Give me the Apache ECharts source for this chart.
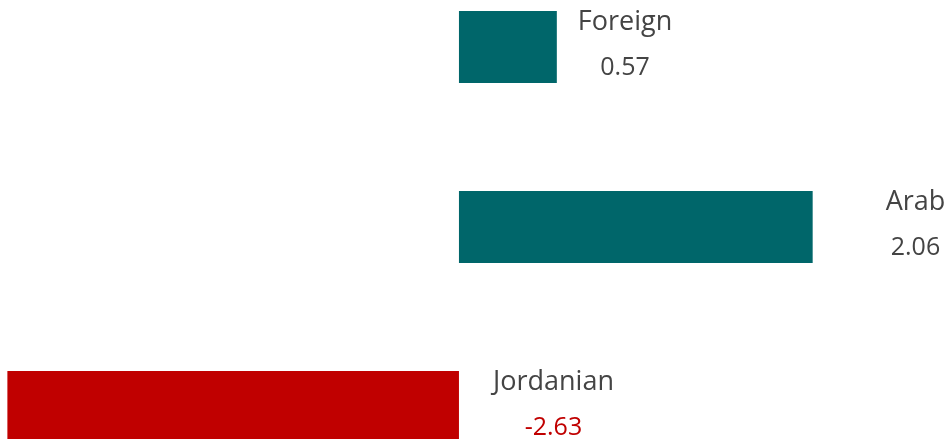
<!DOCTYPE html>
<html>
<head>
<meta charset="utf-8">
<script src="https://cdn.jsdelivr.net/npm/echarts@6/dist/echarts.min.js"></script>
<style>
html,body{margin:0;padding:0;background:#fff;}
#chart{width:949px;height:439px;}
</style>
</head>
<body>
<div id="chart"></div>
<script>
var categories = ['Foreign', 'Arab', 'Jordanian'];
var values = [0.57, 2.06, -2.63];
var labelGaps = [21, 73, 34];

var chart = echarts.init(document.getElementById('chart'));

var data = values.map(function (v, i) {
    var neg = v < 0;
    return {
        value: v,
        itemStyle: { color: neg ? '#C00000' : '#00666A' },
        label: {
            distance: labelGaps[i],
            formatter: '{n|' + categories[i] + '}\n{v' + (neg ? 'r' : '') + '|' + v.toFixed(2) + '}'
        }
    };
});

var option = {
    animation: false,
    grid: { left: 0, right: 0, top: -43, height: 540, outerBoundsMode: 'none' },
    xAxis: {
        type: 'value',
        min: -2.673,
        max: 2.854,
        show: false
    },
    yAxis: {
        type: 'category',
        data: categories,
        inverse: true,
        show: false
    },
    series: [{
        type: 'bar',
        barWidth: 72,
        data: data,
        label: {
            show: true,
            position: 'right',
            offset: [0, -2],
            rich: {
                n: { fontFamily: 'Open Sans', fontSize: 27, color: '#444', align: 'center', lineHeight: 45 },
                v: { fontFamily: 'Open Sans', fontSize: 25, color: '#444', align: 'center', lineHeight: 45 },
                vr: { fontFamily: 'Open Sans', fontSize: 25, color: '#C00000', align: 'center', lineHeight: 45 }
            }
        }
    }]
};

chart.setOption(option);
window.addEventListener('resize', chart.resize);
</script>
</body>
</html>
